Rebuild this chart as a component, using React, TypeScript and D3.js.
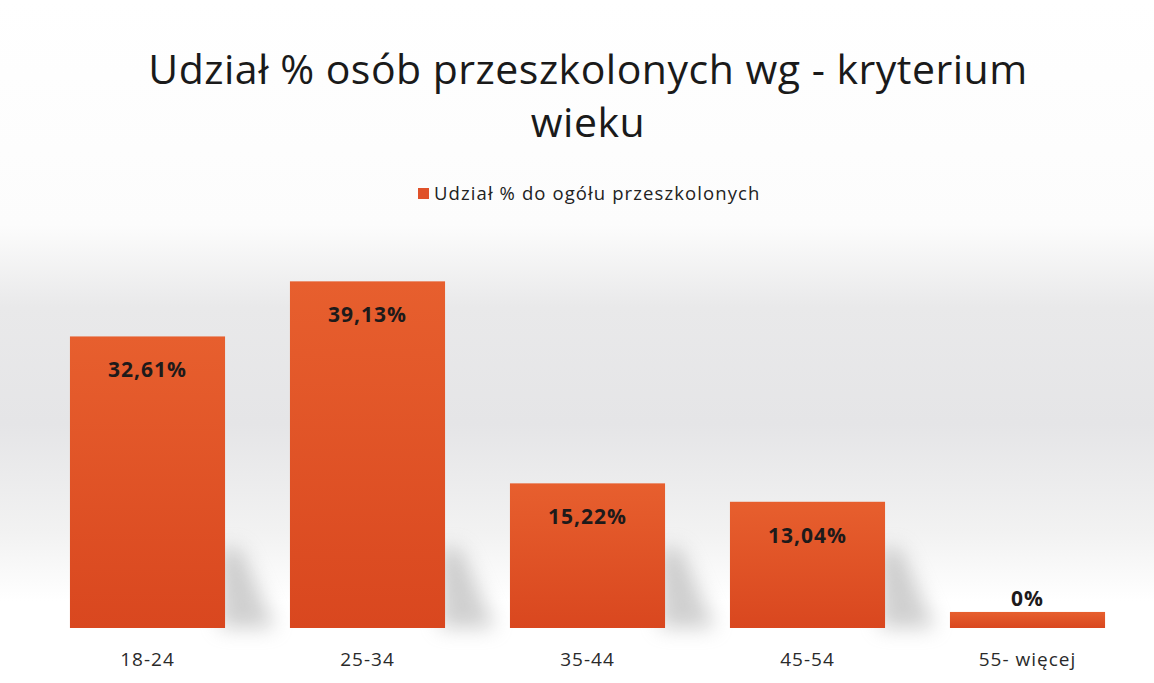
import React from "react";
import * as d3 from "d3";

const categories = ["18-24", "25-34", "35-44", "45-54", "55- więcej"];
const values = [32.61, 39.13, 15.22, 13.04, 0];
const valueLabels = ["32,61%", "39,13%", "15,22%", "13,04%", "0%"];
const titleLines = ["Udział % osób przeszkolonych wg - kryterium", "wieku"];
const legendLabel = "Udział % do ogółu przeszkolonych";

const W = 1154;
const H = 683;
const FONT = "'Open Sans', 'Noto Sans', sans-serif";

export default function App() {
  const x = d3
    .scaleBand<string>()
    .domain(categories)
    .range([37.5, 1137.5])
    .paddingInner(0.295)
    .paddingOuter(0.1475);
  const y = d3.scaleLinear().domain([-1.9, 40]).range([628, 274]);
  const bw = x.bandwidth();

  return (
    <svg
      width={W}
      height={H}
      style={{ position: "absolute", left: 0, top: 0 }}
      viewBox={`0 0 ${W} ${H}`}
    >
      <defs>
        <linearGradient id="bg" x1="0" y1="0" x2="0" y2="1">
          <stop offset="0" stopColor="#ffffff" />
          <stop offset="0.33" stopColor="#fcfcfc" />
          <stop offset="0.45" stopColor="#e9e9ea" />
          <stop offset="0.62" stopColor="#e5e5e7" />
          <stop offset="0.78" stopColor="#f2f2f2" />
          <stop offset="0.88" stopColor="#ffffff" />
          <stop offset="1" stopColor="#ffffff" />
        </linearGradient>
        <linearGradient id="bar" x1="0" y1="0" x2="0" y2="1">
          <stop offset="0" stopColor="#e75f2e" />
          <stop offset="1" stopColor="#d9471f" />
        </linearGradient>
        <filter id="blur" x="-50%" y="-50%" width="200%" height="200%">
          <feGaussianBlur stdDeviation="10" />
        </filter>
      </defs>
      <rect x={0} y={0} width={W} height={H} fill="url(#bg)" />

      {titleLines.map((t, i) => (
        <text
          key={i}
          x={588}
          y={84 + i * 53}
          textAnchor="middle"
          fontFamily={FONT}
          fontSize={41}
          letterSpacing={0.5}
          fill="#1a1a1a"
        >
          {t}
        </text>
      ))}

      <rect x={418} y={188} width={11} height={11} fill="#e0522a" />
      <text
        x={434}
        y={200}
        fontFamily={FONT}
        fontSize={18.5}
        letterSpacing={1.1}
        fill="#222"
      >
        {legendLabel}
      </text>

      {categories.map((c, i) => {
        const x0 = x(c)!;
        const top = y(values[i]);
        const h = y.range()[0] - top;
        return (
          <g key={c}>
            {h > 40 && (
              <polygon
                points={`${x0 + bw - 5},${628} ${x0 + bw + 50},${628} ${x0 + bw + 15},${628 - Math.min(h, 80)} ${x0 + bw - 5},${628 - Math.min(h, 80)}`}
                fill="#a0a0a0"
                opacity={0.5}
                filter="url(#blur)"
              />
            )}
            <rect x={x0} y={top} width={bw} height={h} fill="url(#bar)" />
            <text
              x={x0 + bw / 2}
              y={h > 30 ? top + 41 : top - 6}
              textAnchor="middle"
              fontFamily={FONT}
              fontWeight={700}
              fontSize={21}
              letterSpacing={1}
              fill="#1e1a1a"
            >
              {valueLabels[i]}
            </text>
            <text
              x={x0 + bw / 2}
              y={666}
              textAnchor="middle"
              fontFamily={FONT}
              fontSize={19}
              letterSpacing={1}
              fill="#2a2a2a"
            >
              {c}
            </text>
          </g>
        );
      })}
    </svg>
  );
}
